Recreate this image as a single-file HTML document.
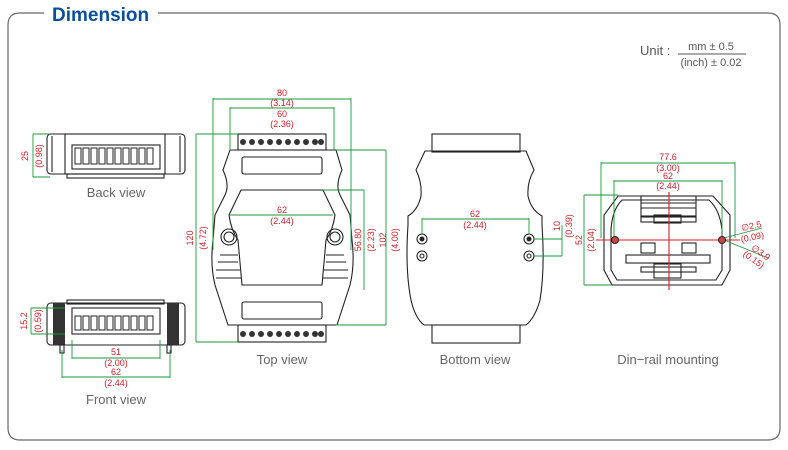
<!DOCTYPE html>
<html><head><meta charset="utf-8"><style>
body{margin:0;background:#fff;}
svg{display:block;font-family:"Liberation Sans",sans-serif;}
.k{fill:none;stroke:#222;stroke-width:1.1}
.g{fill:none;stroke:#1a9a3a;stroke-width:0.9}
.r{fill:#d0202a;font-size:9px;text-anchor:middle}
.l{fill:#666;font-size:13px;text-anchor:middle}
</style></head><body>
<svg width="788" height="450" viewBox="0 0 788 450">
<path d="M44 13 H20 Q8 13 8 25 V428 Q8 440 20 440 H768 Q780 440 780 428 V25 Q780 13 768 13 H158" fill="none" stroke="#666" stroke-width="1.2"/>
<text x="52" y="21" font-size="19" font-weight="bold" fill="#0a4f9a">Dimension</text>
<text x="640" y="55" font-size="13" fill="#555">Unit :</text>
<text x="711" y="50" font-size="11" fill="#555" text-anchor="middle">mm ± 0.5</text>
<line x1="678" y1="54" x2="746" y2="54" stroke="#555"/>
<text x="711" y="66" font-size="11" fill="#555" text-anchor="middle">(inch) ± 0.02</text>

<!-- Back view -->
<rect x="47" y="134" width="138" height="40" rx="4" class="k"/>
<rect x="65" y="134" width="100" height="40" class="k"/>
<line x1="52" y1="136" x2="52" y2="172" class="k"/><line x1="180" y1="136" x2="180" y2="172" class="k"/>
<rect x="72" y="145" width="88" height="24" class="k"/>
<g stroke="#222" fill="none"><path d="M75 148h6v16h-6zM83 148h6v16h-6zM91 148h6v16h-6zM99 148h6v16h-6zM107 148h6v16h-6zM115 148h6v16h-6zM123 148h6v16h-6zM131 148h6v16h-6zM139 148h6v16h-6zM147 148h6v16h-6z"/></g>
<rect x="67" y="174" width="97" height="4" class="k"/>
<path class="g" d="M33 134V177M33 134H50M33 177H50"/>
<text class="r" transform="translate(28,156) rotate(-90)">25</text>
<text class="r" transform="translate(42,156) rotate(-90)">(0.98)</text>
<text class="l" x="116" y="197">Back view</text>

<!-- Front view -->
<rect x="47" y="303" width="138" height="42" rx="4" class="k"/>
<rect x="53" y="303" width="12" height="42" fill="#333"/><rect x="167" y="303" width="12" height="42" fill="#333"/>
<rect x="67" y="300" width="97" height="4" class="k"/>
<rect x="72" y="308" width="88" height="26" class="k"/>
<g stroke="#222" fill="none"><path d="M75 316h6v14h-6zM83 316h6v14h-6zM91 316h6v14h-6zM99 316h6v14h-6zM107 316h6v14h-6zM115 316h6v14h-6zM123 316h6v14h-6zM131 316h6v14h-6zM139 316h6v14h-6zM147 316h6v14h-6z"/></g>
<rect x="60" y="345" width="4" height="8" class="k"/><rect x="167" y="345" width="4" height="8" class="k"/>
<path class="g" d="M31 308V334M31 308H65M31 334H65M72 340V359M160 340V359M72 358H160M62 350V378M170 350V378M62 377H170"/>
<text class="r" transform="translate(27,321) rotate(-90)">15.2</text>
<text class="r" transform="translate(41,321) rotate(-90)">(0.59)</text>
<text class="r" x="116" y="355">51</text><text class="r" x="116" y="366">(2.00)</text>
<text class="r" x="116" y="375">62</text><text class="r" x="116" y="386">(2.44)</text>
<text class="l" x="116" y="404">Front view</text>

<!-- Top view -->
<rect x="238" y="134" width="88" height="16" class="k"/>
<rect x="238" y="325" width="88" height="17" class="k"/>
<g fill="#333"><circle cx="243" cy="142" r="3"/><circle cx="252" cy="142" r="3"/><circle cx="261" cy="142" r="3"/><circle cx="270" cy="142" r="3"/><circle cx="279" cy="142" r="3"/><circle cx="288" cy="142" r="3"/><circle cx="297" cy="142" r="3"/><circle cx="306" cy="142" r="3"/><circle cx="315" cy="142" r="3"/><circle cx="321" cy="142" r="3"/>
<circle cx="243" cy="334" r="3"/><circle cx="252" cy="334" r="3"/><circle cx="261" cy="334" r="3"/><circle cx="270" cy="334" r="3"/><circle cx="279" cy="334" r="3"/><circle cx="288" cy="334" r="3"/><circle cx="297" cy="334" r="3"/><circle cx="306" cy="334" r="3"/><circle cx="315" cy="334" r="3"/><circle cx="321" cy="334" r="3"/></g>
<path class="k" d="M230 150H336L342 170Q335 185 340 195L350 215L352 240Q355 265 350 285L337 325H228L215 285Q210 265 213 240L215 215L225 195Q230 185 223 170Z"/>
<rect x="242" y="157" width="80" height="17" rx="2" class="k"/>
<rect x="242" y="302" width="80" height="17" rx="2" class="k"/>
<path class="k" d="M241 190H323L335 215Q333 230 326 240L322 285H242L238 240Q231 230 229 215Z"/>
<circle cx="229" cy="237" r="8" class="k"/><circle cx="229" cy="237" r="5" class="k"/>
<circle cx="335" cy="237" r="8" class="k"/><circle cx="335" cy="237" r="5" class="k"/>
<path class="k" d="M220 255H238M218 262H238M216 270H240M216 278H241M326 255H344M326 262H346M324 270H348M323 278H348"/>
<path class="g" d="M213 98V250M351 98V250M213 99H351M230 107V150M334 107V150M230 108H334M196 134V342M196 134H238M196 342H238M386 150V325M336 150H386M336 325H386M364 190V290M323 190H364M230 215H333"/>
<text class="r" x="282" y="96">80</text><text class="r" x="282" y="106">(3.14)</text>
<text class="r" x="282" y="117">60</text><text class="r" x="282" y="127">(2.36)</text>
<text class="r" x="282" y="213">62</text><text class="r" x="282" y="224">(2.44)</text>
<text class="r" transform="translate(193,238) rotate(-90)">120</text>
<text class="r" transform="translate(206,238) rotate(-90)">(4.72)</text>
<text class="r" transform="translate(361,240) rotate(-90)">56.80</text>
<text class="r" transform="translate(374,240) rotate(-90)">(2.23)</text>
<text class="r" transform="translate(386,240) rotate(-90)">102</text>
<text class="r" transform="translate(398,240) rotate(-90)">(4.00)</text>
<text class="l" x="282" y="364">Top view</text>

<!-- Bottom view -->
<rect x="432" y="134" width="88" height="18" class="k"/>
<rect x="432" y="325" width="88" height="18" class="k"/>
<path class="k" d="M425 151H526L534 170Q527 182 528 196Q531 210 542 216V225Q545 270 540 300Q535 318 526 325H424Q415 318 411 300Q405 270 408 225V216Q418 210 421 196Q422 182 416 170Z"/>
<circle cx="422" cy="239" r="5" class="k"/><circle cx="422" cy="239" r="2.5" fill="#222"/>
<circle cx="422" cy="256" r="5" class="k"/><circle cx="422" cy="256" r="2" class="k"/>
<circle cx="529" cy="239" r="5" class="k"/><circle cx="529" cy="239" r="2.5" fill="#222"/>
<circle cx="529" cy="256" r="5" class="k"/><circle cx="529" cy="256" r="2" class="k"/>
<path class="g" d="M422 218V234M529 218V234M422 219H529M534 239H562M534 256H562M562 225V256"/>
<text class="r" x="475" y="217">62</text><text class="r" x="475" y="228">(2.44)</text>
<text class="r" transform="translate(560,226) rotate(-90)">10</text>
<text class="r" transform="translate(572,226) rotate(-90)">(0.39)</text>
<text class="l" x="475" y="364">Bottom view</text>

<!-- Din rail -->
<path class="k" d="M618 196H713L730 215V270L722 285H612L604 270V215Z"/>
<path class="k" d="M622 200H709Q720 210 722 230V270L716 280H617L611 270V230Q612 210 622 200Z"/>
<rect x="641" y="196" width="55" height="20" class="k"/>
<path class="k" d="M641 203H696M641 208H696"/>
<rect x="641" y="217" width="55" height="5" class="k"/><rect x="654" y="215" width="27" height="8" class="k"/>
<rect x="641" y="243" width="14" height="10" class="k"/><rect x="682" y="243" width="14" height="10" class="k"/>
<rect x="626" y="255" width="84" height="8" class="k"/>
<rect x="641" y="267" width="55" height="5" class="k"/><rect x="654" y="264" width="27" height="14" class="k"/>
<path class="g" d="M601 162V238M735 162V238M601 163H735M614 180V240M722 180V240M614 181H722M584 195V285M584 195H618M584 285H612M724 238L762 228M724 240L768 258"/>
<line x1="596" y1="240" x2="740" y2="240" stroke="#d0202a" stroke-width="1.1"/>
<line x1="669" y1="192" x2="669" y2="290" stroke="#d0202a" stroke-width="1.1"/>
<circle cx="615" cy="240" r="3.5" fill="#c44" stroke="#222"/><circle cx="722" cy="240" r="3.5" fill="#c44" stroke="#222"/>
<text class="r" x="668" y="160">77.6</text><text class="r" x="668" y="171">(3.00)</text>
<text class="r" x="668" y="179">62</text><text class="r" x="668" y="189">(2.44)</text>
<text class="r" transform="translate(582,240) rotate(-90)">52</text>
<text class="r" transform="translate(594,240) rotate(-90)">(2.04)</text>
<text class="r" x="752" y="229" transform="rotate(-12 752 229)">∅2.5</text>
<text class="r" x="753" y="240" transform="rotate(-12 753 240)">(0.09)</text>
<text class="r" x="759" y="255" transform="rotate(35 759 255)">∅3.9</text>
<text class="r" x="752" y="262" transform="rotate(35 752 262)">(0.15)</text>
<text class="l" x="668" y="364">Din−rail mounting</text>
</svg>
</body></html>
